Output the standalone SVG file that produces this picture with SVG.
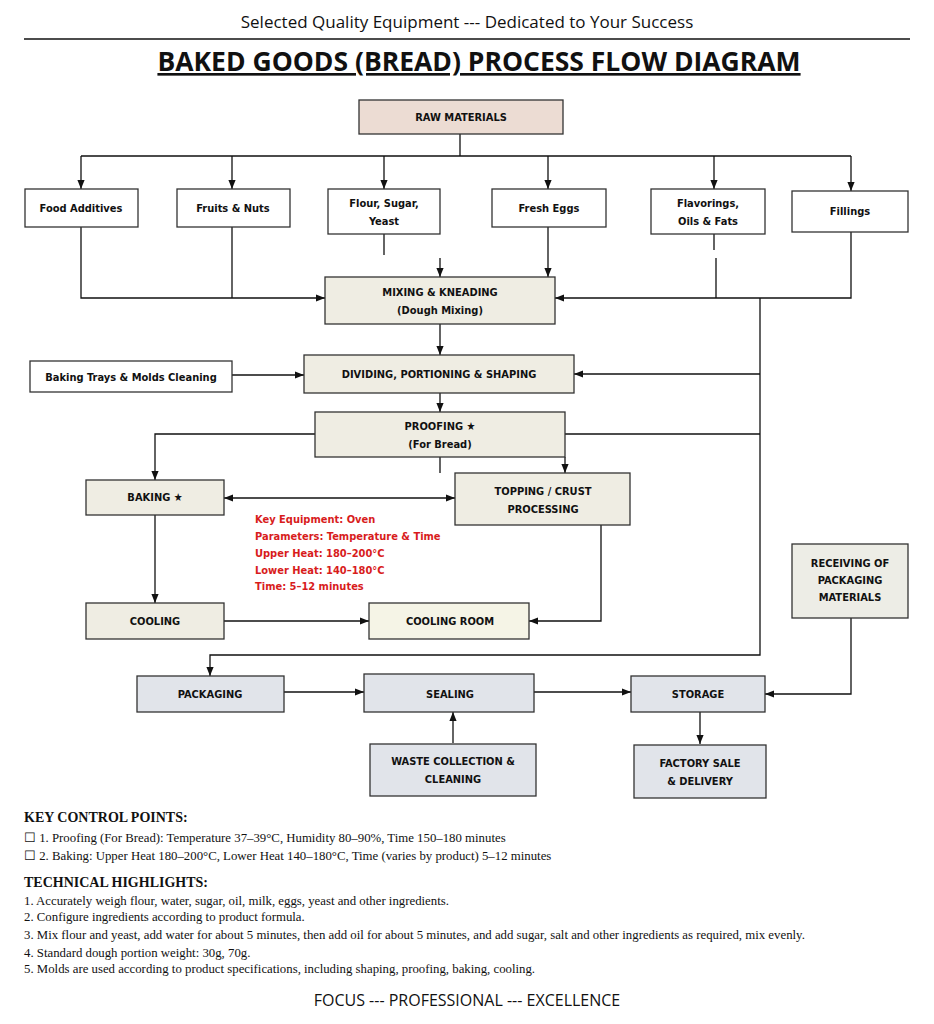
<svg xmlns="http://www.w3.org/2000/svg" width="934" height="1024" viewBox="0 0 934 1024">
<defs>
<marker id="ah" viewBox="0 0 10 10" refX="10" refY="5" markerWidth="7" markerHeight="7" orient="auto-start-reverse"><path d="M0,1 L10,5 L0,9 z" fill="#111"/></marker>
<style>
.n rect{stroke:#333;stroke-width:1.3}
.w{fill:#fff}.b{fill:#efede3}.g{fill:#e1e4ea}.r{fill:#ecdcd3}
.t{font-family:"DejaVu Sans Condensed","Liberation Sans",sans-serif;font-weight:bold;font-size:11px;fill:#111;text-anchor:middle}
.c path{fill:none;stroke:#111;stroke-width:1.3}
.red{font-family:"DejaVu Sans Condensed","Liberation Sans",sans-serif;font-weight:bold;font-size:11px;fill:#d81c1c}
.s{font-family:"Liberation Serif",serif;font-size:12.8px;fill:#111}
.h{font-family:"Liberation Serif",serif;font-size:14px;font-weight:bold;fill:#111}
</style>
</defs>
<rect width="934" height="1024" fill="#fff"/>
<text x="467" y="28" font-family="Open Sans,sans-serif" font-size="17" text-anchor="middle" fill="#111">Selected Quality Equipment --- Dedicated to Your Success</text>
<line x1="24" y1="39" x2="910" y2="39" stroke="#111" stroke-width="1.3"/>
<text x="479" y="71" font-family="Open Sans,sans-serif" font-size="26.5" font-weight="bold" text-anchor="middle" fill="#111" text-decoration="underline">BAKED GOODS (BREAD) PROCESS FLOW DIAGRAM</text>

<g class="c">
<path d="M460,134 V156 M81,156 H851"/>
<path d="M81,156 V189" marker-end="url(#ah)"/>
<path d="M232,156 V189" marker-end="url(#ah)"/>
<path d="M384,156 V189" marker-end="url(#ah)"/>
<path d="M548,156 V189" marker-end="url(#ah)"/>
<path d="M714,156 V189" marker-end="url(#ah)"/>
<path d="M851,156 V191" marker-end="url(#ah)"/>
<path d="M81,227 V298 H325" marker-end="url(#ah)"/>
<path d="M232,227 V298"/>
<path d="M384,234 V255"/>
<path d="M440,258 V277" marker-end="url(#ah)"/>
<path d="M548,227 V277" marker-end="url(#ah)"/>
<path d="M714,234 V250 M716,258 V298"/>
<path d="M851,232 V298 H555" marker-end="url(#ah)"/>
<path d="M760,298 V655 H210 V676" marker-end="url(#ah)"/>
<path d="M440,324 V355" marker-end="url(#ah)"/>
<path d="M232,375 H304" marker-end="url(#ah)"/>
<path d="M760,374 H574" marker-end="url(#ah)"/>
<path d="M440,393 V412" marker-end="url(#ah)"/>
<path d="M315,434 H155 V480" marker-end="url(#ah)"/>
<path d="M565,434 H760"/>
<path d="M440,457 V473"/>
<path d="M565,457 V473" marker-end="url(#ah)"/>
<path d="M224,498 H455" marker-start="url(#ah)" marker-end="url(#ah)"/>
<path d="M155,515 V603" marker-end="url(#ah)"/>
<path d="M224,621 H369" marker-end="url(#ah)"/>
<path d="M601,525 V621 H529" marker-end="url(#ah)"/>
<path d="M284,692 H364" marker-end="url(#ah)"/>
<path d="M534,692 H631" marker-end="url(#ah)"/>
<path d="M851,618 V694 H765" marker-end="url(#ah)"/>
<path d="M700,712 V744" marker-end="url(#ah)"/>
<path d="M453,743 V712" marker-end="url(#ah)"/>
</g>

<g id="raw" class="n"><rect x="359" y="100" width="204" height="34" class="r"/><text class="t" x="461" y="121">RAW MATERIALS</text></g>
<g id="additives" class="n"><rect x="25" y="189" width="113" height="38" class="w"/><text class="t" x="81" y="212">Food Additives</text></g>
<g id="fruits" class="n"><rect x="177" y="189" width="113" height="38" class="w"/><text class="t" x="233" y="212">Fruits &amp; Nuts</text></g>
<g id="flour" class="n"><rect x="328" y="189" width="112" height="45" class="w"/><text class="t" x="384" y="207">Flour, Sugar,</text><text class="t" x="384" y="225">Yeast</text></g>
<g id="eggs" class="n"><rect x="492" y="189" width="114" height="38" class="w"/><text class="t" x="549" y="212">Fresh Eggs</text></g>
<g id="flavor" class="n"><rect x="651" y="189" width="114" height="45" class="w"/><text class="t" x="708" y="207">Flavorings,</text><text class="t" x="708" y="225">Oils &amp; Fats</text></g>
<g id="fillings" class="n"><rect x="792" y="191" width="116" height="41" class="w"/><text class="t" x="850" y="215">Fillings</text></g>
<g id="mixing" class="n"><rect x="325" y="277" width="230" height="47" class="b"/><text class="t" x="440" y="296">MIXING &amp; KNEADING</text><text class="t" x="440" y="314">(Dough Mixing)</text></g>
<g id="trays" class="n"><rect x="30" y="361" width="202" height="31" class="w"/><text class="t" x="131" y="381">Baking Trays &amp; Molds Cleaning</text></g>
<g id="dividing" class="n"><rect x="304" y="355" width="270" height="38" class="b"/><text class="t" x="439" y="378">DIVIDING, PORTIONING &amp; SHAPING</text></g>
<g id="proofing" class="n"><rect x="315" y="412" width="250" height="45" class="b"/><text class="t" x="440" y="430">PROOFING ★</text><text class="t" x="440" y="448">(For Bread)</text></g>
<g id="baking" class="n"><rect x="86" y="480" width="138" height="35" class="b"/><text class="t" x="155" y="501">BAKING ★</text></g>
<g id="topping" class="n"><rect x="455" y="473" width="175" height="52" class="b"/><text class="t" x="543" y="495">TOPPING / CRUST</text><text class="t" x="543" y="513">PROCESSING</text></g>
<g id="params">
<text class="red" x="255" y="523">Key Equipment: Oven</text>
<text class="red" x="255" y="540">Parameters: Temperature &amp; Time</text>
<text class="red" x="255" y="557">Upper Heat: 180–200°C</text>
<text class="red" x="255" y="574">Lower Heat: 140–180°C</text>
<text class="red" x="255" y="590">Time: 5–12 minutes</text>
</g>
<g id="cooling" class="n"><rect x="86" y="603" width="138" height="36" class="b"/><text class="t" x="155" y="625">COOLING</text></g>
<g id="coolroom" class="n"><rect x="369" y="603" width="160" height="36" fill="#f5f4e6"/><text class="t" x="450" y="625">COOLING ROOM</text></g>
<g id="receiving" class="n"><rect x="792" y="544" width="116" height="74" fill="#edede6"/><text class="t" x="850" y="567">RECEIVING OF</text><text class="t" x="850" y="584">PACKAGING</text><text class="t" x="850" y="601">MATERIALS</text></g>
<g id="packaging" class="n"><rect x="137" y="676" width="147" height="36" class="g"/><text class="t" x="210" y="698">PACKAGING</text></g>
<g id="sealing" class="n"><rect x="364" y="674" width="170" height="38" class="g"/><text class="t" x="450" y="698">SEALING</text></g>
<g id="storage" class="n"><rect x="631" y="676" width="134" height="36" class="g"/><text class="t" x="698" y="698">STORAGE</text></g>
<g id="waste" class="n"><rect x="370" y="744" width="166" height="52" class="g"/><text class="t" x="453" y="765">WASTE COLLECTION &amp;</text><text class="t" x="453" y="783">CLEANING</text></g>
<g id="sale" class="n"><rect x="634" y="745" width="132" height="53" class="g"/><text class="t" x="700" y="767">FACTORY SALE</text><text class="t" x="700" y="785">&amp; DELIVERY</text></g>

<text class="h" x="24" y="822">KEY CONTROL POINTS:</text>
<text class="s" x="24" y="842">☐    1. Proofing (For Bread): Temperature 37–39°C, Humidity 80–90%, Time 150–180 minutes</text>
<text class="s" x="24" y="860">☐    2. Baking: Upper Heat 180–200°C, Lower Heat 140–180°C, Time (varies by product) 5–12 minutes</text>
<text class="h" x="24" y="887">TECHNICAL HIGHLIGHTS:</text>
<text class="s" x="24" y="905">1. Accurately weigh flour, water, sugar, oil, milk, eggs, yeast and other ingredients.</text>
<text class="s" x="24" y="921">2. Configure ingredients according to product formula.</text>
<text class="s" x="24" y="939">3. Mix flour and yeast, add water for about 5 minutes, then add oil for about 5 minutes, and add sugar, salt and other ingredients as required, mix evenly.</text>
<text class="s" x="24" y="957">4. Standard dough portion weight: 30g, 70g.</text>
<text class="s" x="24" y="973">5. Molds are used according to product specifications, including shaping, proofing, baking, cooling.</text>
<text x="467" y="1006" font-family="Open Sans,sans-serif" font-size="16" text-anchor="middle" fill="#111">FOCUS --- PROFESSIONAL --- EXCELLENCE</text>
</svg>
